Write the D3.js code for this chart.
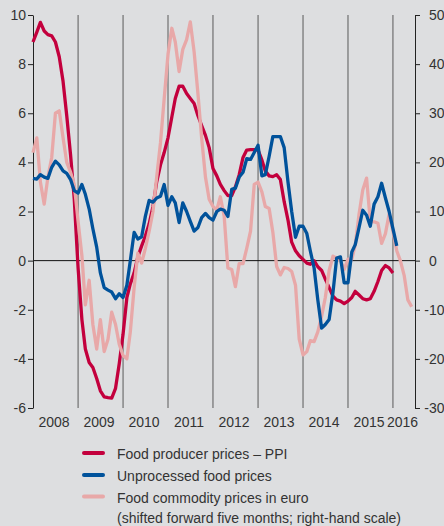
<!DOCTYPE html>
<html lang="en">
<head>
  <meta charset="utf-8">
  <title>Food prices</title>
  <script type="text/javascript" src="https://cdn.jsdelivr.net/npm/d3@7/dist/d3.min.js"></script>
  <style>
    html, body { margin: 0; padding: 0; background: #dddee0; }
    svg { display: block; }
    text { font-family: "Liberation Sans", Arial, sans-serif; fill: #333; }
  </style>
</head>
<body>
  <script type="text/javascript">

  // monthly values, first month = January 2008
  var startYear = 2008

  // Food producer prices - PPI (left scale)
  var ppi = [8.9, 9.3, 9.7, 9.35, 9.2, 9.15, 8.9, 8.3, 7.3, 5.9, 4.3, 2.5,
    -0.3, -2.4, -3.6, -4.15, -4.35, -4.8, -5.3, -5.55, -5.58, -5.6, -5.2, -4.2,
    -3.0, -1.5, -0.95, -0.5, 0.15, 0.6, 1.0, 1.5, 2.2, 3.2, 3.9, 4.4,
    5.0, 5.85, 6.6, 7.1, 7.1, 6.8, 6.6, 6.4, 5.9, 5.5, 5.1, 4.6,
    3.75, 3.45, 3.1, 2.85, 2.65, 2.65, 3.0, 3.5, 4.2, 4.5, 4.52, 4.52,
    4.5, 4.1, 3.65, 3.45, 3.42, 3.5, 3.3, 2.4, 1.65, 0.75, 0.4, 0.2,
    0.05, -0.1, -0.15, 0.0, -0.25, -0.4, -0.75, -1.1, -1.45, -1.6, -1.65, -1.75,
    -1.65, -1.5, -1.25, -1.4, -1.55, -1.6, -1.55, -1.25, -0.85, -0.4, -0.2, -0.3,
    -0.5]

  // Unprocessed food prices (left scale)
  var unprocessed = [3.35, 3.32, 3.5, 3.4, 3.35, 3.8, 4.05, 3.9, 3.65, 3.55, 3.3, 2.85,
    2.75, 3.1, 2.7, 2.1, 1.3, 0.55, -0.5, -1.1, -1.2, -1.28, -1.55, -1.35,
    -1.5, -1.0, 0.0, 1.15, 0.88, 0.97, 1.8, 2.45, 2.38, 2.55, 2.62, 3.1,
    2.25, 2.6, 2.35, 1.55, 2.35, 2.0, 1.6, 1.2, 1.35, 1.75, 1.92, 1.75,
    1.65, 2.0, 2.1, 2.05, 1.8, 2.9, 2.95, 3.4, 3.6, 4.15, 4.12, 4.4,
    4.7, 3.45, 3.5, 4.25, 5.05, 5.05, 5.05, 4.6, 3.2, 2.0, 0.95, 1.4,
    1.4, 1.1, 0.4, -0.3, -1.6, -2.75, -2.6, -2.4, -1.3, 0.1, 0.15, -0.9,
    -0.9, 0.35, 0.65, 1.35, 2.05, 1.85, 1.4, 2.3, 2.6, 3.15, 2.55, 2.0,
    1.3, 0.6]

  // Food commodity prices in euro, shifted forward five months (right scale)
  var commodity = [22, 25, 16, 11.5, 17, 21, 30, 30.5, 25, 20, 18, 15.5,
    8, 1, -9, -4, -13, -18, -12, -18.5, -16, -10.5, -13, -17,
    -19.3, -20, -14.5, -5.5, 1.5, -0.5, 2.5, 6, 10, 17, 24, 33,
    42, 47.3, 44.5, 38.5, 43, 45, 48.6, 42.5, 34, 25, 17, 12.5,
    11, 10.3, 13, 9, -1.5, -1.8, -5.3, -0.6, -0.6, 2.5, 6, 15.5,
    16, 14, 11, 10.6, 5.8, -1.2, -2.9, -1.4, -1.6, -2.2, -5, -16,
    -19.2, -18.5, -16.3, -16.5, -14.5, -11.3, -7.5, -2, 0.9, 0.5, 0, -1.8,
    0.3, 0.3, 3.2, 9.5, 14.4, 16.8, 8, 7.9, 7.6, 3.5, 5.5, 9.5,
    6, 2, 0, -3, -8, -9.4]

  var years = [2008, 2009, 2010, 2011, 2012, 2013, 2014, 2015, 2016]
  var leftTicks = [-6, -4, -2, 0, 2, 4, 6, 8, 10]
  var rightTicks = [-30, -20, -10, 0, 10, 20, 30, 40, 50]

  var legendLabels = ["Food producer prices \u2013 PPI", "Unprocessed food prices",
    "Food commodity prices in euro"]
  var legendNote = "(shifted forward five months; right-hand scale)"

  var colors = ["#c3003d", "#00529b", "#e8a8a8"]

  var width = 444
  var height = 526
  // plot box (note: "top" is reserved by window, so prefix everything)
  var plotLeft = 33, plotRight = 415, plotTop = 15, plotBottom = 408

  var x = d3.scaleTime()
    .domain([new Date(2008, 0, 1), new Date(2016, 5, 28)])
    .range([plotLeft, plotRight])
  var y = d3.scaleLinear().domain([-6, 10]).range([plotBottom, plotTop])
  var y2 = d3.scaleLinear().domain([-30, 50]).range([plotBottom, plotTop])

  var svg = d3.select("body")
    .append("svg")
    .attr("width", width)
    .attr("height", height)

  // year separators
  svg.append("g")
    .selectAll("line")
    .data(years.slice(1))
    .enter().append("line")
    .attr("x1", d => x(new Date(d, 0, 1)))
    .attr("x2", d => x(new Date(d, 0, 1)))
    .attr("y1", plotTop)
    .attr("y2", plotBottom)
    .attr("stroke", "#5a5a5a")
    .attr("stroke-width", 1)

  // zero line
  svg.append("line")
    .attr("x1", plotLeft).attr("x2", plotRight)
    .attr("y1", y(0)).attr("y2", y(0))
    .attr("stroke", "#111")
    .attr("stroke-width", 1)

  // axes
  var minus = d => d < 0 ? "-" + (-d) : d
  var yAxis = svg.append("g")
    .attr("transform", `translate(${plotLeft},0)`)
    .call(d3.axisLeft(y).tickValues(leftTicks).tickSize(5).tickSizeOuter(0).tickPadding(2).tickFormat(minus))
  var y2Axis = svg.append("g")
    .attr("transform", `translate(${plotRight},0)`)
    .call(d3.axisRight(y2).tickValues(rightTicks).tickSize(5).tickSizeOuter(0).tickPadding(9).tickFormat(minus))

  svg.selectAll(".domain").attr("stroke", "#222")
  svg.selectAll(".tick line").attr("stroke", "#222")
  svg.selectAll(".tick text")
    .attr("font-size", "14px")
    .attr("font-family", null)
    .attr("fill", "#333")
  // minus signs hang left of the aligned digits on the right scale
  y2Axis.selectAll(".tick text").attr("dx", d => d < 0 ? "-4.7px" : null)

  // year labels, centred in the visible part of each year
  svg.append("g")
    .selectAll("text")
    .data(years)
    .enter().append("text")
    .attr("x", d => {
      var a = Math.max(x(new Date(d, 0, 1)), plotLeft)
      var b = Math.min(x(new Date(d + 1, 0, 1)), plotRight)
      return (a + b) / 2 - 1.5
    })
    .attr("y", 427)
    .attr("text-anchor", "middle")
    .attr("font-size", "14px")
    .text(d => d)

  function toPoints(values, scale) {
    return values.map((v, i) => [x(new Date(startYear, i, 1)), scale(v)])
  }

  var series = [
    { values: toPoints(ppi, y), color: colors[0] },
    { values: toPoints(commodity, y2), color: colors[2] },
    { values: toPoints(unprocessed, y), color: colors[1] }
  ]

  svg.append("g")
    .selectAll("path")
    .data(series)
    .enter().append("path")
    .attr("d", d => d3.line()(d.values))
    .attr("fill", "none")
    .attr("stroke", d => d.color)
    .attr("stroke-width", 3.3)
    .attr("stroke-linejoin", "round")

  // legend
  var legend = svg.append("g")
  var rowY = [453, 475, 496.5]
  legendLabels.forEach(function(label, i) {
    legend.append("line")
      .attr("x1", 84).attr("x2", 103)
      .attr("y1", rowY[i]).attr("y2", rowY[i])
      .attr("stroke", colors[i])
      .attr("stroke-width", 4)
      .attr("stroke-linecap", "round")
    legend.append("text")
      .attr("x", 117)
      .attr("y", rowY[i] + 6)
      .attr("font-size", "14px")
      .text(label)
  })
  legend.append("text")
    .attr("x", 117)
    .attr("y", 523)
    .attr("font-size", "14px")
    .text(legendNote)

  </script>
</body>
</html>
